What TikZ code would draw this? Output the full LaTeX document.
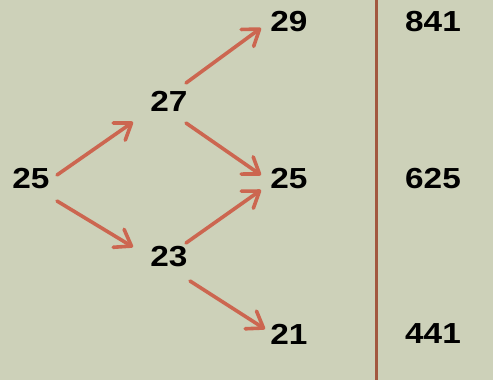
\documentclass[tikz,border=0pt]{standalone}
\usepackage{fontspec}
\setmainfont{Liberation Sans}[FakeStretch=1.15]
\usetikzlibrary{arrows.meta}
\definecolor{bg}{HTML}{CDD1B9}
\definecolor{arrowc}{HTML}{CC6650}
\definecolor{rule}{HTML}{A2583F}
\begin{document}
\begin{tikzpicture}[x=1pt,y=-1pt,
  num/.style={font=\fontsize{29}{29}\selectfont\bfseries, inner sep=0pt},
  arr/.style={arrowc, line width=3.6pt, line cap=round,
    -{Straight Barb[length=15pt,width=21pt,line cap=round,round]}}]
  % background and frame
  \fill[bg] (0,0) rectangle (493,380);
  \useasboundingbox (0,0) rectangle (493,380);
  % tree of values
  \node[num] (a) at (31,179) {25};
  \node[num] (b1) at (169,101) {27};
  \node[num] (b2) at (169,257) {23};
  \node[num] (c1) at (289,22) {29};
  \node[num] (c2) at (289,179) {25};
  \node[num] (c3) at (289,334) {21};
  % squares column
  \node[num] (s1) at (433,22) {841};
  \node[num] (s2) at (433,179) {625};
  \node[num] (s3) at (433,334) {441};
  % divider
  \coordinate (top) at (376.5,0);
  \coordinate (bot) at (376.5,380);
  \draw[rule, line width=2.4pt] (top) -- (bot);
  % branches
  \draw[arr] ([shift={(26,-4)}]a.center) -- ([shift={(-36,21)}]b1.center);
  \draw[arr] ([shift={(26,22)}]a.center) -- ([shift={(-36,-10)}]b2.center);
  \draw[arr] ([shift={(17,-18)}]b1.center) -- ([shift={(-28,6)}]c1.center);
  \draw[arr] ([shift={(17,22)}]b1.center) -- ([shift={(-28,-4)}]c2.center);
  \draw[arr] ([shift={(17,-14)}]b2.center) -- ([shift={(-28,11)}]c2.center);
  \draw[arr] ([shift={(21,24)}]b2.center) -- ([shift={(-24,-5)}]c3.center);
\end{tikzpicture}
\end{document}
